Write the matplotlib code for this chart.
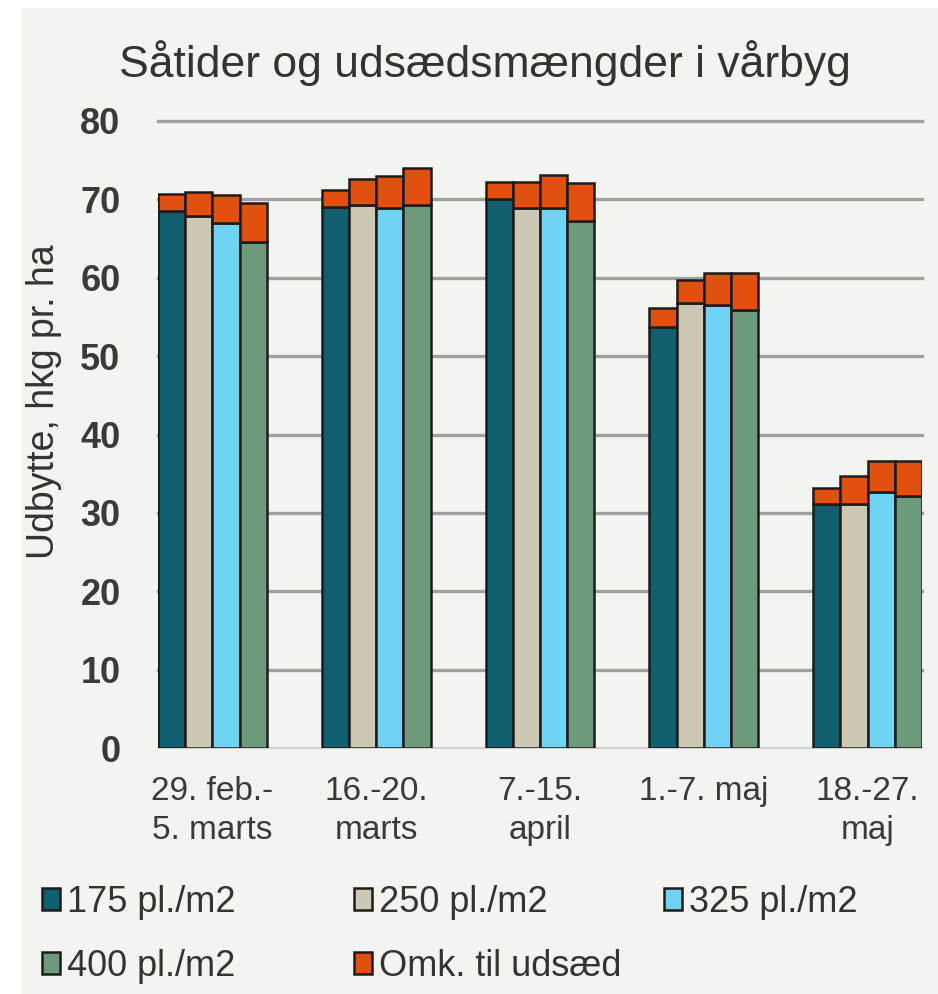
import numpy as np
import matplotlib.pyplot as plt
from matplotlib.patches import Rectangle

# Data
categories = ["29. feb.-\n5. marts", "16.-20.\nmarts", "7.-15.\napril", "1.-7. maj", "18.-27.\nmaj"]
series = ["175 pl./m2", "250 pl./m2", "325 pl./m2", "400 pl./m2"]
yield_175 = [68.5, 69.0, 70.0, 53.7, 31.1]
yield_250 = [67.9, 69.3, 68.9, 56.8, 31.1]
yield_325 = [67.0, 68.9, 68.9, 56.5, 32.7]
yield_400 = [64.5, 69.3, 67.3, 55.9, 32.1]
# seed cost stacked on top of each bar
cost_175 = [2.2, 2.2, 2.2, 2.4, 2.1]
cost_250 = [3.0, 3.3, 3.3, 2.9, 3.6]
cost_325 = [3.5, 4.1, 4.2, 4.1, 3.9]
cost_400 = [5.1, 4.7, 4.8, 4.7, 4.5]
cost_label = "Omk. til udsæd"
yticks = [0, 10, 20, 30, 40, 50, 60, 70, 80]

colors = ["#0f5f6e", "#cdc8b3", "#6fd4f2", "#6d9a7a"]
cost_color = "#e2500f"
edge = "#1c1c1c"
bg = "#f3f3ef"

plt.rcParams['font.family'] = ['Liberation Sans', 'DejaVu Sans']

fig = plt.figure(figsize=(9.38, 9.94), dpi=100, facecolor=bg)
# white frame strips on the left and top edge
fig.patches.append(Rectangle((0, 0), 20 / 938, 1, transform=fig.transFigure, color='white', zorder=-5))
fig.patches.append(Rectangle((0, 1 - 7 / 994), 1, 7 / 994, transform=fig.transFigure, color='white', zorder=-5))

ax = fig.add_axes([158 / 938, 1 - 748 / 994, (922 - 158) / 938, (748 - 121) / 994])
ax.set_facecolor(bg)

x = np.arange(len(categories))
group_w = 0.665
w = group_w / 4
yields = [yield_175, yield_250, yield_325, yield_400]
costs = [cost_175, cost_250, cost_325, cost_400]

handles = []
for i in range(4):
    pos = x - group_w / 2 + w * (i + 0.5)
    b = ax.bar(pos, yields[i], w, color=colors[i], edgecolor=edge, linewidth=1.8,
               label=series[i], zorder=3)
    c = ax.bar(pos, costs[i], w, bottom=yields[i], color=cost_color, edgecolor=edge,
               linewidth=1.8, zorder=3)
    handles.append(b)
cost_handle = c

ax.set_xlim(-group_w / 2, len(categories) - 1 + group_w / 2)
ax.set_ylim(0, 80)
ax.set_yticks(yticks)
ax.set_xticks(x)
ax.set_xticklabels(categories, fontsize=24, color="#3a3a3a", linespacing=1.35)
ax.tick_params(axis='y', labelsize=26, colors="#3a3a3a", length=0, pad=27)
ax.tick_params(axis='x', length=0, pad=20)
for lbl in ax.get_yticklabels():
    lbl.set_fontweight('bold')

for v in yticks[1:]:
    ax.axhline(v, color="#a0a0a0", linewidth=2.4, zorder=1, clip_on=False)
ax.axhline(0, color="#c8c8c8", linewidth=1.2, zorder=1, clip_on=False)

for s in ax.spines.values():
    s.set_visible(False)

ax.set_ylabel("Udbytte, hkg pr. ha", fontsize=27, color="#333333")
ax.yaxis.set_label_coords((62 - 158) / 764, 0.553)
fig.text(485 / 938, 1 - 63 / 994, "Såtider og udsædsmængder i vårbyg", fontsize=32,
         color="#333333", ha='center', va='center')

# legend laid out row by row on an even grid, one legend per column
leg_cols = [([handles[0], handles[3]], [series[0], series[3]], 42),
            ([handles[1], cost_handle], [series[1], cost_label], 354),
            ([handles[2]], [series[2]], 664)]
for hs, ls, x0 in leg_cols:
    fig.legend(hs, ls, loc='upper left', bbox_to_anchor=(x0 / 938, 1 - 885 / 994),
               frameon=False, fontsize=26, handlelength=0.5, handleheight=0.55,
               handletextpad=0.2, labelspacing=0.8, borderpad=0, borderaxespad=0,
               labelcolor="#333333")

fig.savefig("out.png", dpi=100, facecolor=bg)
